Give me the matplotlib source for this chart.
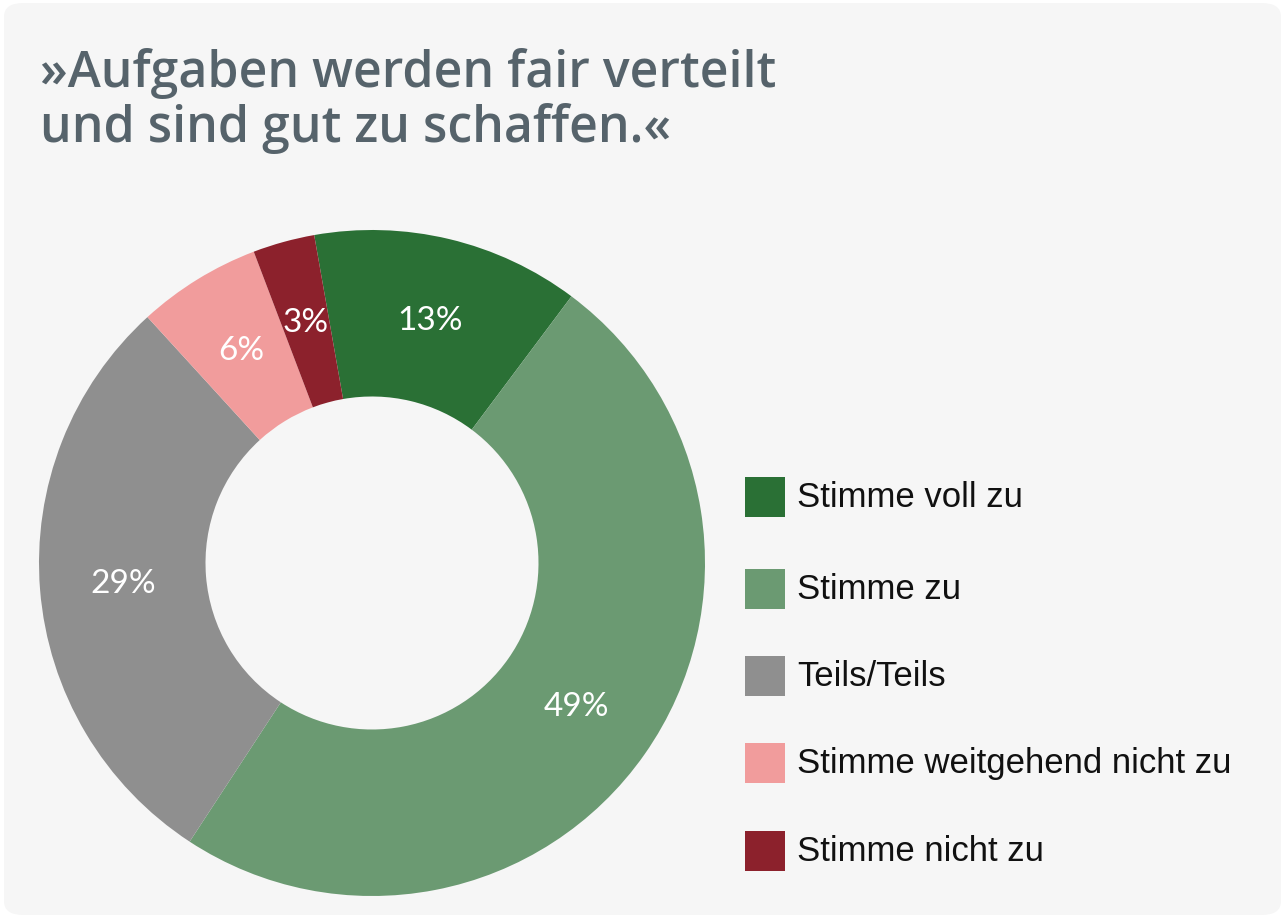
import matplotlib
matplotlib.use("Agg")
import matplotlib.pyplot as plt
from matplotlib.patches import FancyBboxPatch, Rectangle

labels = ["Stimme voll zu", "Stimme zu", "Teils/Teils", "Stimme weitgehend nicht zu", "Stimme nicht zu"]
values = [13, 49, 29, 6, 3]
colors = ["#2a7035", "#6b9a72", "#8f8f8f", "#f19c9c", "#8c212c"]
title = "»Aufgaben werden fair verteilt\nund sind gut zu schaffen.«"

W, H = 1285, 920
fig = plt.figure(figsize=(W/100, H/100), dpi=100)
fig.patch.set_facecolor("white")
bg = FancyBboxPatch((4/W, 4/H), (W-8)/W, (H-8)/H, boxstyle="round,pad=0,rounding_size=0.015",
                    transform=fig.transFigure, facecolor="#f6f6f6", edgecolor="none", zorder=-10)
fig.patches.append(bg)

fig.text(40/W, 1-48/H, title, fontsize=36, fontweight=600, color="#56636b",
         va="top", ha="left", family="Open Sans", linespacing=1.1)

cx, cy, r = 372, 564, 333
ax = fig.add_axes([(cx-r)/W, (H-cy-r)/H, 2*r/W, 2*r/H])
ax.set_facecolor("none")
wedges, _, autotexts = ax.pie(values, colors=colors, startangle=100, counterclock=False,
       autopct=lambda p: f"{p:.0f}%", pctdistance=0.75,
       wedgeprops=dict(width=0.5, edgecolor="none"),
       textprops=dict(color="white", fontsize=24, family="Lato"))
ax.set_aspect("equal")
ax.set_xlim(-1, 1); ax.set_ylim(-1, 1)
ax.axis("off")

ys = [498, 590, 677, 764, 852]
for lab, col, y in zip(labels, colors, ys):
    fig.patches.append(Rectangle((745/W, (H-y-20)/H), 40/W, 40/H, transform=fig.transFigure,
                                 facecolor=col, edgecolor="none"))
    fig.text(797/W, 1-y/H, lab, fontsize=25, color="#111111", va="center", ha="left",
             family="Liberation Sans")

fig.savefig("out.png", dpi=100)
